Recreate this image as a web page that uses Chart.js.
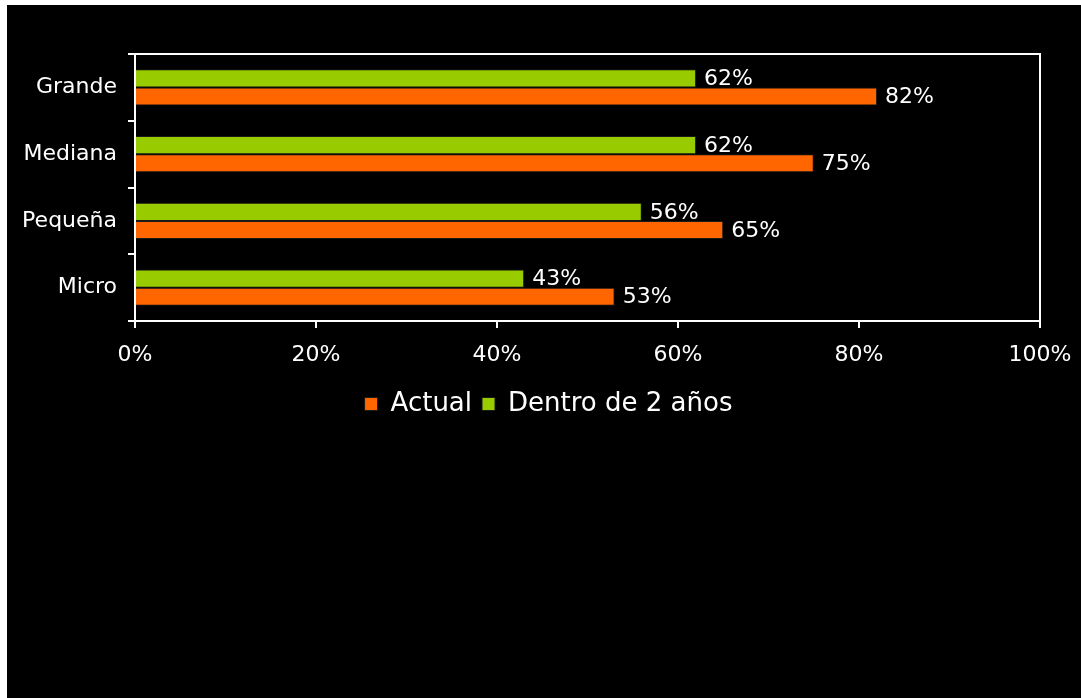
<!DOCTYPE html>
<html>
<head>
<meta charset="utf-8">
<script src="https://cdn.jsdelivr.net/npm/chart.js@4/dist/chart.umd.min.js"></script>
<style>
  html,body{margin:0;padding:0;background:#fff;}
  #frame{position:absolute;left:7px;top:5px;width:1074px;height:693px;background:#000;}
  #wrap{position:relative;width:1074px;height:422px;}
</style>
</head>
<body>
<div id="frame"><div id="wrap"><canvas id="c"></canvas></div></div>
<script>
const categories = ['Grande', 'Mediana', 'Pequeña', 'Micro'];
const actual = [82, 75, 65, 53];
const dentro = [62, 62, 56, 43];
const xTicks = [0, 20, 40, 60, 80, 100];
const seriesNames = ['Actual', 'Dentro de 2 años'];

const FONT = "'DejaVu Sans', Verdana, sans-serif";
const WHITE = '#ffffff';

// frame around the plot area + value labels; nudge legend to the right
const extras = {
  id: 'extras',
  afterLayout(chart) {
    chart.legend.left += 25; chart.legend.right += 25;
  },
  afterDraw(chart) {
    const {ctx, chartArea: a} = chart;
    ctx.save();
    ctx.strokeStyle = WHITE; ctx.lineWidth = 2;
    ctx.beginPath();
    ctx.moveTo(a.left, a.top); ctx.lineTo(a.right, a.top); ctx.lineTo(a.right, a.bottom);
    ctx.stroke();
    ctx.font = '22px ' + FONT; ctx.fillStyle = WHITE;
    ctx.textAlign = 'left'; ctx.textBaseline = 'middle';
    chart.data.datasets.forEach((ds, i) => {
      chart.getDatasetMeta(i).data.forEach((bar, j) => {
        ctx.fillText(ds.data[j] + '%', bar.x + 8, bar.y + 1);
      });
    });
    ctx.restore();
  }
};

new Chart(document.getElementById('c'), {
  type: 'bar',
  data: {
    labels: categories,
    datasets: [
      {label: seriesNames[1], data: dentro, backgroundColor: '#99cc00', borderColor: '#1a1a1a', borderWidth: 1},
      {label: seriesNames[0], data: actual, backgroundColor: '#ff6600', borderColor: '#1a1a1a', borderWidth: 1}
    ]
  },
  options: {
    indexAxis: 'y',
    responsive: true, maintainAspectRatio: false, animation: false,
    datasets: {bar: {categoryPercentage: 0.54, barPercentage: 1}},
    layout: {padding: {left: 0, right: 41, top: 49, bottom: 0}},
    plugins: {
      legend: {
        position: 'bottom', reverse: true,
        labels: {color: WHITE, font: {family: FONT, size: 26}, boxWidth: 13, boxHeight: 13, padding: 10}
      },
      tooltip: {enabled: false}
    },
    scales: {
      x: {
        min: 0, max: 100,
        afterBuildTicks: (s) => { s.ticks = xTicks.map(v => ({value: v})); },
        afterFit: (s) => { s.height = 60; s.paddingLeft = 0; s.paddingRight = 0; },
        border: {color: WHITE, width: 2},
        grid: {drawOnChartArea: false, color: WHITE, lineWidth: 2, tickLength: 7},
        ticks: {color: WHITE, font: {family: FONT, size: 22}, padding: 14, callback: v => v + '%'}
      },
      y: {
        afterFit: (s) => { s.width = 128; },
        border: {color: WHITE, width: 2},
        grid: {drawOnChartArea: false, color: WHITE, lineWidth: 2, tickLength: 7, offset: true},
        ticks: {color: WHITE, font: {family: FONT, size: 22}, padding: 11}
      }
    }
  },
  plugins: [extras]
});
</script>
</body>
</html>
